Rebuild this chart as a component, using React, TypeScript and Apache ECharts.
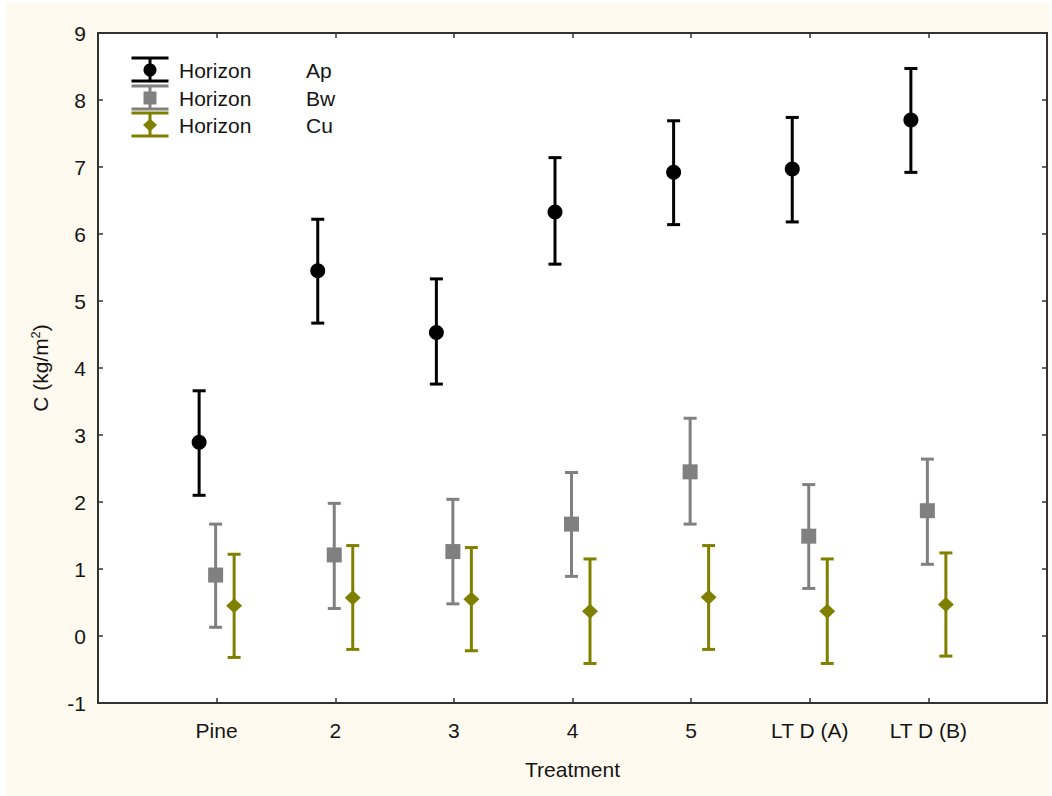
import React, { useEffect, useRef } from "react";
import * as echarts from "echarts";

const categories = ["Pine", "2", "3", "4", "5", "LT D (A)", "LT D (B)"];
const yTicks = [-1, 0, 1, 2, 3, 4, 5, 6, 7, 8, 9];

const apMean = [2.89, 5.45, 4.53, 6.33, 6.92, 6.97, 7.7];
const apLow = [2.1, 4.67, 3.76, 5.55, 6.14, 6.18, 6.92];
const apHigh = [3.66, 6.22, 5.33, 7.14, 7.69, 7.74, 8.47];

const bwMean = [0.91, 1.21, 1.26, 1.67, 2.45, 1.49, 1.87];
const bwLow = [0.13, 0.41, 0.48, 0.89, 1.67, 0.71, 1.07];
const bwHigh = [1.67, 1.98, 2.04, 2.44, 3.25, 2.26, 2.64];

const cuMean = [0.45, 0.57, 0.55, 0.37, 0.58, 0.37, 0.47];
const cuLow = [-0.32, -0.2, -0.22, -0.41, -0.2, -0.41, -0.3];
const cuHigh = [1.22, 1.35, 1.32, 1.15, 1.35, 1.15, 1.24];

const seriesNames = ["Horizon Ap", "Horizon Bw", "Horizon Cu"];
const horizonCodes = ["Ap", "Bw", "Cu"];

const FONT = "'Liberation Sans', Arial, sans-serif";
const TEXT = "#151515";
const FRAME = "#333333";
const FS = 21;

type Shape = "circle" | "square" | "diamond";

function markerEl(shape: Shape, cx: number, cy: number, color: string, size: number) {
  const h = size / 2;
  if (shape === "circle") {
    return { type: "circle", shape: { cx, cy, r: h }, style: { fill: color } };
  }
  if (shape === "square") {
    return { type: "rect", shape: { x: cx - h, y: cy - h, width: size, height: size }, style: { fill: color } };
  }
  return {
    type: "polygon",
    shape: { points: [[cx, cy - h], [cx + h + 0.5, cy], [cx, cy + h], [cx - h - 0.5, cy]] },
    style: { fill: color },
  };
}

function makeSeries(name: string, mean: number[], low: number[], high: number[], color: string, shape: Shape, offset: number) {
  const data = mean.map((m, i) => [i + 1, m, low[i], high[i]]);
  return {
    type: "custom",
    name,
    data,
    encode: { x: 0, y: [1, 2, 3] },
    renderItem: (params: any, api: any) => {
      const x = api.value(0);
      const pm = api.coord([x, api.value(1)]);
      const pl = api.coord([x, api.value(2)]);
      const ph = api.coord([x, api.value(3)]);
      const cx = pm[0] + offset;
      const capW = 6.5;
      const ls = { stroke: color, lineWidth: 3 };
      return {
        type: "group",
        children: [
          { type: "line", shape: { x1: cx, y1: ph[1], x2: cx, y2: pl[1] }, style: ls },
          { type: "line", shape: { x1: cx - capW, y1: ph[1], x2: cx + capW, y2: ph[1] }, style: ls },
          { type: "line", shape: { x1: cx - capW, y1: pl[1], x2: cx + capW, y2: pl[1] }, style: ls },
          markerEl(shape, cx, pm[1], color, 15),
        ],
      };
    },
  };
}

const colors = ["#000000", "#808080", "#808000"];
const shapes: Shape[] = ["circle", "square", "diamond"];

function legendGraphics() {
  const els: any[] = [];
  const rowsY = [67, 95, 122];
  const sx = 144;
  rowsY.forEach((ry, i) => {
    const c = colors[i];
    const ls = { stroke: c, lineWidth: 3 };
    els.push({ type: "line", shape: { x1: sx - 18.5, y1: ry - 12, x2: sx + 18.5, y2: ry - 12 }, style: ls });
    els.push({ type: "line", shape: { x1: sx - 18.5, y1: ry + 11, x2: sx + 18.5, y2: ry + 11 }, style: ls });
    els.push({ type: "line", shape: { x1: sx, y1: ry - 12, x2: sx, y2: ry + 11 }, style: ls });
    els.push(markerEl(shapes[i], sx, ry, c, 13));
    els.push({
      type: "text",
      left: 173,
      top: ry - 10,
      style: { text: "Horizon", fill: TEXT, font: `${FS}px ${FONT}` },
    });
    els.push({
      type: "text",
      left: 300,
      top: ry - 10,
      style: { text: horizonCodes[i], fill: TEXT, font: `${FS}px ${FONT}` },
    });
  });
  return els;
}

export default function App() {
  const ref = useRef<HTMLDivElement>(null);
  useEffect(() => {
    if (!ref.current) return;
    const chart = echarts.init(ref.current, undefined, { renderer: "svg" });
    const axisLine = { show: true, onZero: false, lineStyle: { color: FRAME, width: 2 } };
    const tick = { show: true, inside: true, length: 5, lineStyle: { color: FRAME, width: 1.5 } };
    chart.setOption({
      animation: false,
      backgroundColor: "#fffaef",
      textStyle: { fontFamily: FONT },
      grid: { left: 92, top: 30, width: 949, height: 670, containLabel: false, show: true, backgroundColor: "#ffffff", borderWidth: 0 },
      xAxis: [
        {
          type: "value",
          min: 0,
          max: 8,
          interval: 1,
          position: "bottom",
          axisLine,
          axisTick: tick,
          splitLine: { show: false },
          axisLabel: {
            show: true,
            margin: 17,
            fontSize: FS,
            color: TEXT,
            fontFamily: FONT,
            formatter: (v: number) => categories[v - 1] ?? "",
          },
          name: "Treatment",
          nameLocation: "middle",
          nameGap: 56,
          nameTextStyle: { fontSize: FS, color: TEXT, fontFamily: FONT },
        },
        {
          type: "value",
          min: 0,
          max: 8,
          interval: 1,
          position: "top",
          axisLine,
          axisTick: tick,
          splitLine: { show: false },
          axisLabel: { show: false },
        },
      ],
      yAxis: [
        {
          type: "value",
          min: yTicks[0],
          max: yTicks[yTicks.length - 1],
          interval: 1,
          position: "left",
          axisLine,
          axisTick: tick,
          splitLine: { show: false },
          axisLabel: { show: true, margin: 12, fontSize: FS, color: TEXT, fontFamily: FONT },
          name: "C (kg/m{sup|2})",
          nameLocation: "middle",
          nameGap: 46,
          nameRotate: 90,
          nameTextStyle: {
            fontSize: FS,
            color: TEXT,
            fontFamily: FONT,
            rich: { sup: { fontSize: 13, verticalAlign: "top", padding: [0, 0, 10, 0], color: TEXT, fontFamily: FONT } },
          },
        },
        {
          type: "value",
          min: yTicks[0],
          max: yTicks[yTicks.length - 1],
          interval: 1,
          position: "right",
          axisLine,
          axisTick: tick,
          splitLine: { show: false },
          axisLabel: { show: false },
        },
      ],
      series: [
        makeSeries(seriesNames[0], apMean, apLow, apHigh, colors[0], "circle", -17.5),
        makeSeries(seriesNames[1], bwMean, bwLow, bwHigh, colors[1], "square", -1),
        makeSeries(seriesNames[2], cuMean, cuLow, cuHigh, colors[2], "diamond", 17.5),
      ],
      graphic: legendGraphics(),
    });
    return () => chart.dispose();
  }, []);
  return (
    <div
      ref={ref}
      style={{ position: "fixed", left: 6, top: 3, width: 1044, height: 793 }}
    />
  );
}
